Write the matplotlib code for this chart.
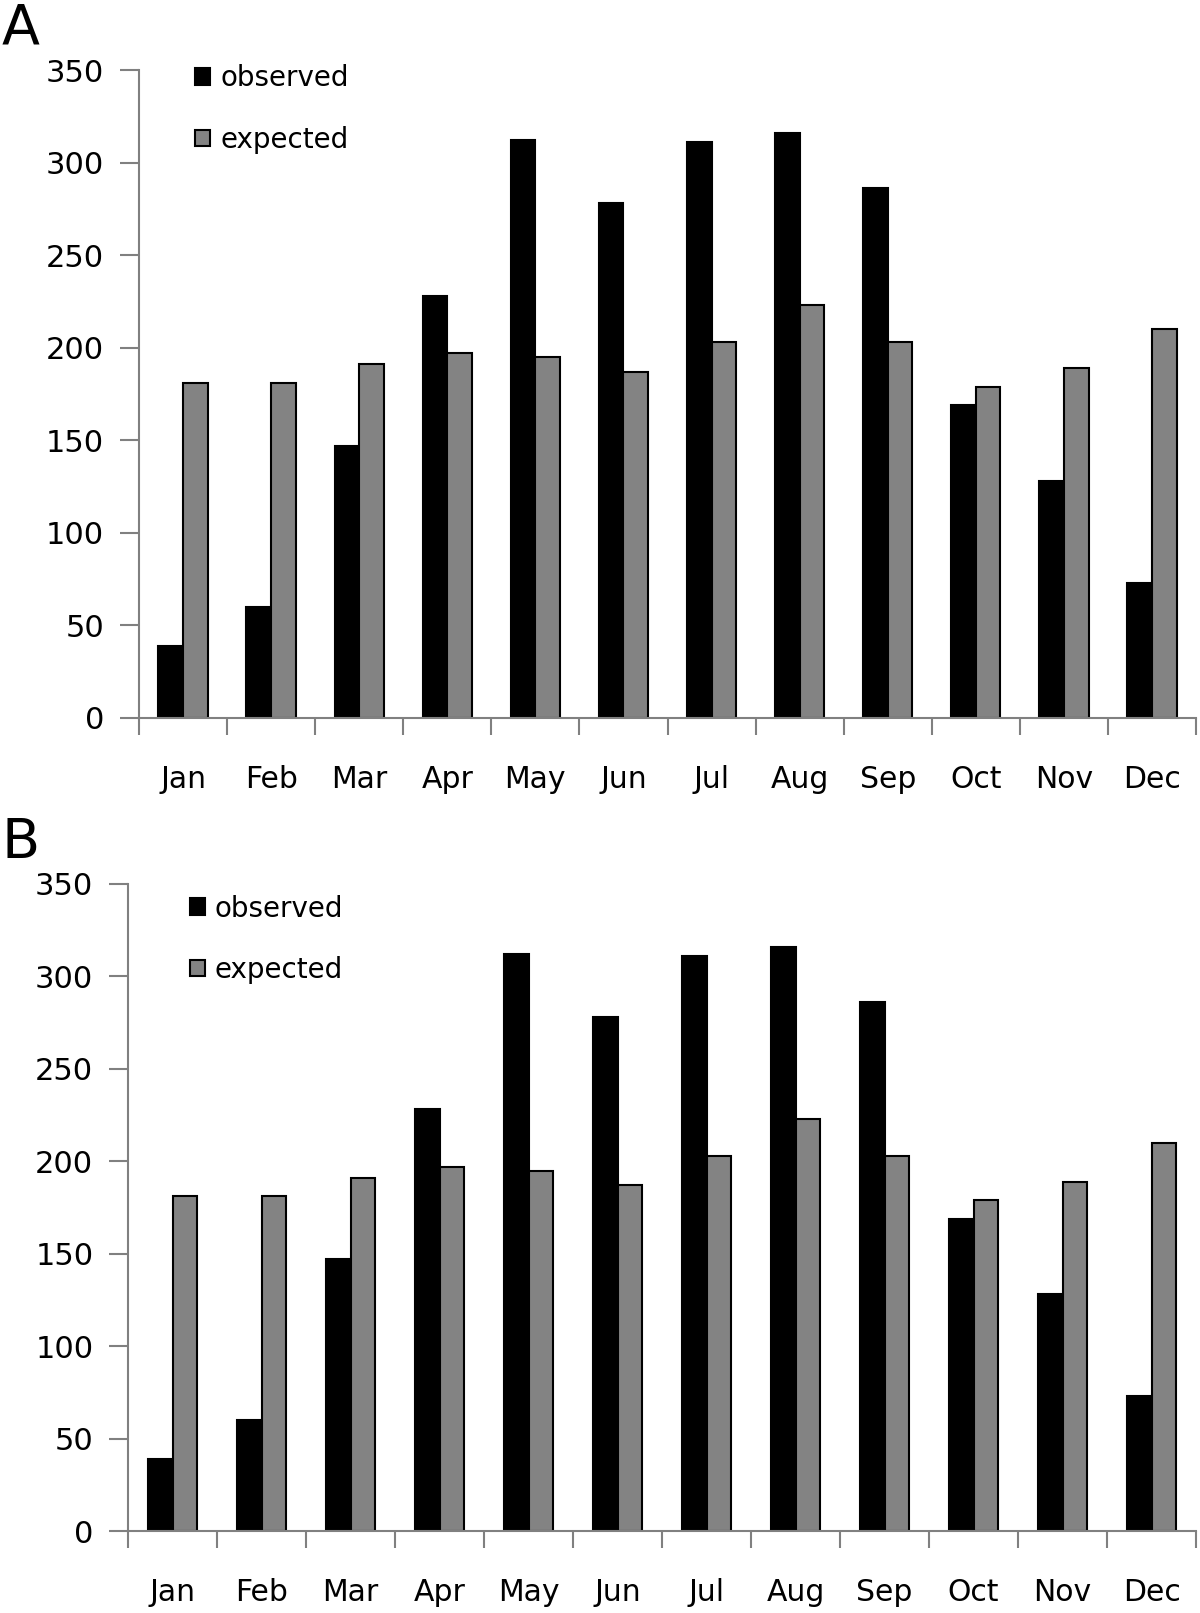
import numpy as np
import matplotlib
matplotlib.use('Agg')
import matplotlib.pyplot as plt

months = ['Jan','Feb','Mar','Apr','May','Jun','Jul','Aug','Sep','Oct','Nov','Dec']
observed = [39, 60, 147, 228, 312, 278, 311, 316, 286, 169, 128, 73]
expected = [181, 181, 191, 197, 195, 187, 203, 223, 203, 179, 189, 210]

plt.rcParams['font.family'] = 'DejaVu Sans'

fig = plt.figure(figsize=(12, 16.13), dpi=100)

def draw_panel(ax, leg_anchor):
    x = np.arange(len(months))
    w = 0.28
    ax.bar(x - w/2, observed, w, color='black', edgecolor='black', linewidth=1.5, label='observed')
    ax.bar(x + w/2, expected, w, color='#838383', edgecolor='black', linewidth=1.5, label='expected')

    ax.set_xlim(-0.5, 11.5)
    ax.set_ylim(0, 350)
    ax.set_yticks(np.arange(0, 351, 50))

    # boundaries get the tick marks, month names sit in between
    ax.set_xticks(np.arange(-0.5, 12, 1))
    ax.set_xticklabels([])
    ax.set_xticks(x, minor=True)
    ax.set_xticklabels(months, minor=True)
    ax.tick_params(axis='x', which='minor', length=0, pad=34, labelsize=21.5)
    ax.tick_params(axis='x', which='major', length=12, width=1.5, color='#808080')
    ax.tick_params(axis='y', length=14, width=1.5, color='#808080', pad=11, labelsize=22)

    for s in ['top', 'right']:
        ax.spines[s].set_visible(False)
    for s in ['left', 'bottom']:
        ax.spines[s].set_color('#808080')
        ax.spines[s].set_linewidth(1.5)

    ax.legend(loc='upper left', bbox_to_anchor=leg_anchor, frameon=False,
              fontsize=20, handlelength=0.55, handleheight=0.55, handletextpad=0.35,
              labelspacing=1.2, borderpad=0)

ax1 = fig.add_axes([0.1158, 0.5549, 0.8809, 0.4017])
draw_panel(ax1, (0.04, 1.03))
ax2 = fig.add_axes([0.1067, 0.0508, 0.89, 0.4012])
draw_panel(ax2, (0.045, 1.005))

fig.text(0.001, 0.999, 'A', fontsize=40, va='top', ha='left')
fig.text(0.001, 0.494, 'B', fontsize=40, va='top', ha='left')

plt.savefig('out.png', dpi=100)
